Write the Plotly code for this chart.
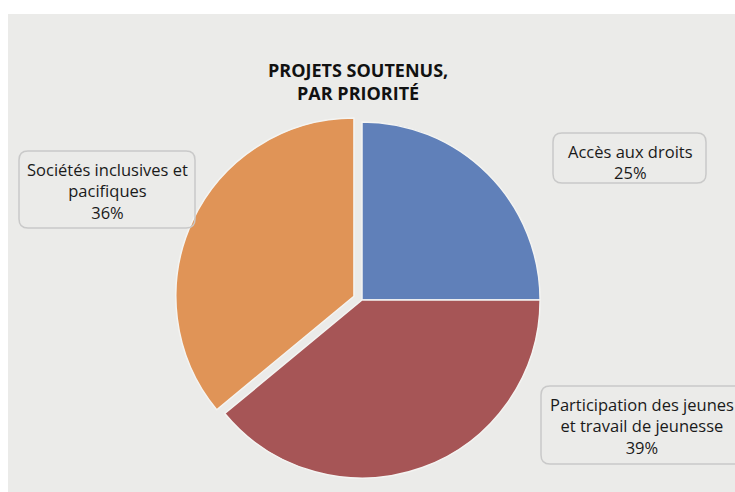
import plotly.graph_objects as go

W, H = 735, 492

labels = [
    "Accès aux droits",
    "Participation des jeunes<br>et travail de jeunesse",
    "Sociétés inclusives et<br>pacifiques",
]
values = [25, 39, 36]
colors = ["#6080B9", "#A65556", "#E09457"]
pulls = [0, 0, 0.05]

title = "PROJETS SOUTENUS,<br>PAR PRIORITÉ"

# label boxes in pixels: (x0, y0, x1, y1, text centre y, text centre x)
boxes = [
    (553, 133, 706, 183, 161.5, 630),
    (541, 386, 760, 464, 426, 642),
    (19, 151, 195, 228, 191, 107),
]
BG = "#EBEBE9"


def px(x):
    return x / W


def py(y):
    return 1 - y / H


def rounded_rect(x0, y0, x1, y1, r=9):
    a, b, c, d = px(x0), py(y1), px(x1), py(y0)
    rx, ry = r / W, r / H
    return (
        f"M {a + rx},{b} L {c - rx},{b} Q {c},{b} {c},{b + ry} "
        f"L {c},{d - ry} Q {c},{d} {c - rx},{d} "
        f"L {a + rx},{d} Q {a},{d} {a},{d - ry} "
        f"L {a},{b + ry} Q {a},{b} {a + rx},{b} Z"
    )


fig = go.Figure(
    go.Pie(
        labels=labels,
        values=values,
        sort=False,
        direction="clockwise",
        rotation=0,
        pull=pulls,
        textinfo="none",
        hoverinfo="label+percent",
        marker=dict(colors=colors, line=dict(color="#F4F4F2", width=1.5)),
        domain=dict(x=[px(175), px(549)], y=[py(487), py(113)]),
        showlegend=False,
    )
)

shapes = [
    dict(type="rect", xref="paper", yref="paper", x0=px(8), x1=1.01, y0=-0.01, y1=py(14),
         fillcolor=BG, line=dict(width=0), layer="below")
]
annotations = [dict(
    text=f"<b>{title}</b>", x=px(358), y=py(81.5), xref="paper", yref="paper",
    showarrow=False, xanchor="center", yanchor="middle",
    font=dict(family="Open Sans", size=18, color="#111111"),
)]

for lab, val, (x0, y0, x1, y1, ty, cx) in zip(labels, values, boxes):
    shapes.append(dict(type="path", xref="paper", yref="paper", path=rounded_rect(x0, y0, x1, y1),
                       line=dict(color="#C9C9C9", width=1.5), fillcolor="rgba(0,0,0,0)"))
    text = f"{lab}<br>{val / sum(values) * 100:.0f}%"
    annotations.append(dict(
        text=text, x=px(cx), y=py(ty), xref="paper", yref="paper",
        showarrow=False, xanchor="center", yanchor="middle", align="center",
        font=dict(family="Open Sans", size=16.5, color="#1a1a1a"),
    ))

fig.update_layout(
    width=W,
    height=H,
    margin=dict(l=0, r=0, t=0, b=0),
    paper_bgcolor="white",
    plot_bgcolor="white",
    shapes=shapes,
    annotations=annotations,
)

# drop the default page margin so the figure fills the window
fig.write_html(
    "out.html",
    config={"displayModeBar": False},
    post_script="document.body.style.margin='0';",
)
